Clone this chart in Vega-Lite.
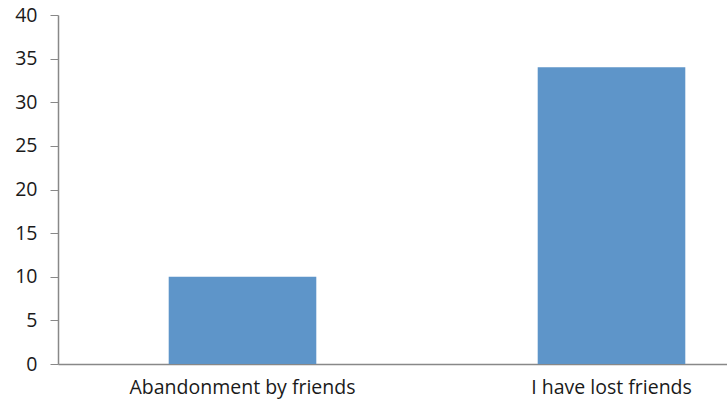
{
  "$schema": "https://vega.github.io/schema/vega-lite/v6.json",
  "autosize": "none",
  "padding": {"left": 58, "top": 15, "right": 0, "bottom": 44},
  "width": {"step": 369},
  "height": 349,
  "background": "white",
  "config": {"view": {"stroke": null}, "font": "Open Sans"},
  "data": {"values": [
    {"category": "Abandonment by friends", "value": 10},
    {"category": "I have lost friends", "value": 34}
  ]},
  "mark": {"type": "bar", "color": "#5E95C9"},
  "encoding": {
    "x": {
      "field": "category", "type": "nominal", "sort": null,
      "scale": {"paddingInner": 0.6, "paddingOuter": 0.3},
      "axis": {"title": null, "labelAngle": 0, "ticks": false, "labelPadding": 14, "labelLimit": 0,
        "labelFontSize": 19.5, "labelColor": "#1a1a1a", "domainColor": "#888", "domainWidth": 1.5, "grid": false}
    },
    "y": {
      "field": "value", "type": "quantitative",
      "scale": {"domain": [0, 40]},
      "axis": {"title": null, "values": [0,5,10,15,20,25,30,35,40], "grid": false,
        "tickSize": 8, "tickColor": "#888", "labelPadding": 13, "labelFontSize": 19.5,
        "labelColor": "#1a1a1a", "domainColor": "#888", "domainWidth": 1.5}
    }
  }
}
